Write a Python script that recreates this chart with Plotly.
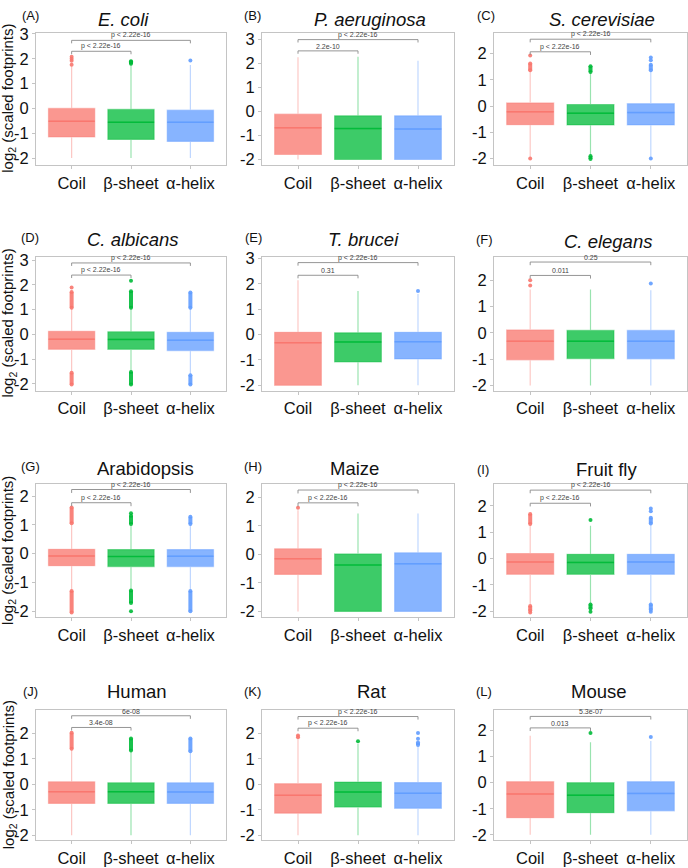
import plotly.graph_objects as go

W, H = 688, 868

letters = ["A", "B", "C", "D", "E", "F", "G", "H", "I", "J", "K", "L"]
titles = ["E. coli", "P. aeruginosa", "S. cerevisiae", "C. albicans", "T. brucei", "C. elegans",
          "Arabidopsis", "Maize", "Fruit fly", "Human", "Rat", "Mouse"]
italic = [True] * 6 + [False] * 6
cats = ["Coil", "β-sheet", "α-helix"]
colors = [(248, 118, 109), (0, 186, 56), (97, 156, 255)]

# box stats per panel: [Coil, beta-sheet, alpha-helix]
q1 = [[-1.15, -1.25, -1.33], [-1.79, -2.0, -2.0], [-0.71, -0.72, -0.72],
      [-0.6, -0.6, -0.65], [-2.0, -1.08, -0.96], [-1.03, -0.98, -0.99],
      [-0.42, -0.45, -0.45], [-0.7, -2.0, -2.0], [-0.6, -0.6, -0.6],
      [-0.75, -0.75, -0.75], [-1.13, -0.89, -0.94], [-1.34, -1.15, -1.08]]
med = [[-0.52, -0.56, -0.56], [-0.68, -0.71, -0.73], [-0.22, -0.27, -0.25],
       [-0.19, -0.2, -0.23], [-0.32, -0.29, -0.28], [-0.32, -0.32, -0.32],
       [-0.08, -0.1, -0.09], [-0.15, -0.37, -0.33], [-0.13, -0.15, -0.13],
       [-0.29, -0.29, -0.3], [-0.43, -0.3, -0.35], [-0.43, -0.48, -0.41]]
q3 = [[0.0, -0.04, -0.07], [-0.11, -0.18, -0.18], [0.12, 0.06, 0.09],
      [0.13, 0.11, 0.09], [0.09, 0.07, 0.09], [0.11, 0.09, 0.09],
      [0.15, 0.14, 0.14], [0.2, 0.02, 0.06], [0.19, 0.16, 0.16],
      [0.1, 0.06, 0.06], [0.03, 0.09, 0.07], [0.04, 0.0, 0.04]]
lo = [[-2.0, -2.0, -2.0], [-2.0, -2.0, -2.0], [-1.95, -1.88, -1.95],
      [-1.5, -1.5, -1.6], [-2.0, -2.0, -2.0], [-2.0, -2.0, -2.0],
      [-1.25, -1.25, -1.25], [-2.0, -2.0, -2.0], [-1.75, -1.7, -1.72],
      [-2.0, -2.0, -2.0], [-2.0, -2.0, -2.0], [-2.0, -2.0, -2.0]]
hi = [[1.7, 1.78, 1.75], [2.26, 2.29, 2.12], [1.35, 1.28, 1.33],
      [1.05, 1.05, 1.05], [2.14, 1.72, 1.6], [1.65, 1.65, 1.62],
      [1.0, 1.0, 1.0], [1.55, 1.44, 1.44], [1.28, 1.25, 1.3],
      [1.35, 1.3, 1.28], [1.78, 1.6, 1.5], [1.8, 1.55, 1.6]]

# single outlier points
out_pts = [[[1.76, 1.92, 2.0, 2.08], [1.85, 1.88], [1.93]],
           [[], [], []],
           [[-2.0, 1.93], [], [-2.0, 1.75, 1.85]],
           [[1.9], [2.17], []],
           [[], [], [1.72]],
           [[1.8, 2.0], [], [1.87]],
           [[], [1.4, -2.0], []],
           [[1.64], [], []],
           [[-2.05], [1.46, -2.02], [1.9, 1.8, -2.02]],
           [[], [], []],
           [[1.85, 1.92], [1.7], [1.8, 2.02]],
           [[], [1.9], [1.75]]]
# dense runs of outliers (low, high)
out_runs = [[[], [[1.8, 1.9]], []],
            [[], [], []],
            [[[1.37, 1.62]], [[1.3, 1.52], [-2.02, -1.9]], [[1.37, 1.58]]],
            [[[1.08, 1.72], [-2.02, -1.55]], [[1.08, 1.75], [-2.02, -1.52]], [[1.08, 1.7], [-2.02, -1.65]]],
            [[], [], []],
            [[], [], []],
            [[[1.06, 1.6], [-2.05, -1.3]], [[1.03, 1.32], [-1.72, -1.28]], [[1.03, 1.28], [-2.0, -1.3]]],
            [[], [], []],
            [[[1.31, 1.69], [-1.98, -1.8]], [[-1.9, -1.75]], [[1.33, 1.55], [-1.95, -1.75]]],
            [[[1.4, 2.02]], [[1.33, 1.8]], [[1.3, 1.8]]],
            [[], [], [[1.55, 1.65]]],
            [[], [], []]]

# comparisons: Coil vs beta-sheet, Coil vs alpha-helix
p_cb = ["p < 2.22e-16", "2.2e-10", "p < 2.22e-16", "p < 2.22e-16", "0.31", "0.011",
        "p < 2.22e-16", "p < 2.22e-16", "p < 2.22e-16", "3.4e-08", "p < 2.22e-16", "0.013"]
p_ca = ["p < 2.22e-16", "p < 2.22e-16", "p < 2.22e-16", "p < 2.22e-16", "p < 2.22e-16", "0.25",
        "p < 2.22e-16", "p < 2.22e-16", "p < 2.22e-16", "6e-08", "p < 2.22e-16", "5.3e-07"]
y_cb = [2.3, 2.53, 2.07, 2.4, 2.34, 2.18, 1.77, 1.81, 2.1, 2.23, 2.21, 2.1]
y_ca = [2.74, 3.0, 2.55, 2.89, 2.84, 2.69, 2.23, 2.26, 2.6, 2.69, 2.67, 2.54]

y_min = [-2.27, -2.22, -2.24, -2.27, -2.21, -2.2, -2.22, -2.21, -2.24, -2.2, -2.2, -2.21]
y_max = [3.05, 3.29, 2.8, 3.15, 3.08, 2.9, 2.41, 2.46, 2.82, 2.91, 2.92, 2.78]
y_top_tick = [3, 3, 2, 3, 3, 2, 2, 2, 2, 2, 2, 2]

# panel geometry in pixels
col_px = [(36, 226), (262, 454), (494, 687)]
row_px = [(25, 159), (252, 388), (483, 618), (712, 844)]
title_px = [(124, 12), (370, 12), (602, 12), (133, 235), (363, 235), (608, 237),
            (145, 467), (354, 467), (606, 468), (137, 693), (371, 693), (599, 693)]
letter_px = [(31, 8), (252, 8), (486, 8), (30, 233), (253, 233), (484, 235),
             (30, 465), (253, 465), (483, 468), (31, 693), (252, 693), (484, 693)]

FONT = "Liberation Sans, Arial, sans-serif"
BW = 0.78
TIP = 0.12


def rgba(c, a):
    return "rgba(%d,%d,%d,%s)" % (c[0], c[1], c[2], a)


fig = go.Figure()
annotations = []
layout = {}

for k in range(12):
    r, c = divmod(k, 3)
    sfx = "" if k == 0 else str(k + 1)
    xa, ya = "x" + sfx, "y" + sfx
    x0, x1 = col_px[c]
    t0, t1 = row_px[r]
    yt = list(range(-2, y_top_tick[k] + 1))
    layout["xaxis" + sfx] = dict(
        domain=[x0 / W, x1 / W], anchor=ya, range=[0.4, 3.6],
        tickvals=[1, 2, 3], ticktext=cats, showgrid=False, zeroline=False,
        showline=True, mirror=True, linecolor="#C4C4C4", linewidth=1,
        ticks="outside", ticklen=3, tickcolor="#C4C4C4", ticklabeloverflow="allow",
        tickfont=dict(size=16.5, color="#111", family=FONT))
    layout["yaxis" + sfx] = dict(
        domain=[1 - t1 / H, 1 - t0 / H], anchor=xa, range=[y_min[k], y_max[k]],
        tickvals=yt, ticktext=[str(v) for v in yt], showgrid=False, zeroline=False,
        showline=True, mirror=True, linecolor="#C4C4C4", linewidth=1,
        ticks="outside", ticklen=3, tickcolor="#C4C4C4", ticklabeloverflow="allow",
        tickfont=dict(size=16.5, color="#111", family=FONT))

    for j in range(3):
        col = colors[j]
        xi = j + 1
        fig.add_trace(go.Box(
            x=[xi], q1=[q1[k][j]], median=[med[k][j]], q3=[q3[k][j]],
            lowerfence=[lo[k][j]], upperfence=[hi[k][j]], width=BW,
            fillcolor=rgba(col, 0.76), line=dict(color=rgba(col, 0.4), width=1.2),
            whiskerwidth=0, boxpoints=False, xaxis=xa, yaxis=ya, showlegend=False))
        fig.add_trace(go.Scatter(
            x=[xi - BW / 2, xi + BW / 2], y=[med[k][j], med[k][j]], mode="lines",
            line=dict(color=rgba(col, 0.9), width=1.5), xaxis=xa, yaxis=ya,
            showlegend=False, hoverinfo="skip"))
        for a, b in out_runs[k][j]:
            fig.add_trace(go.Scatter(
                x=[xi, xi], y=[a, b], mode="lines+markers",
                line=dict(color=rgba(col, 0.9), width=4),
                marker=dict(size=4, color=rgba(col, 0.9)),
                xaxis=xa, yaxis=ya, showlegend=False, hoverinfo="skip"))
        if out_pts[k][j]:
            fig.add_trace(go.Scatter(
                x=[xi] * len(out_pts[k][j]), y=out_pts[k][j], mode="markers",
                marker=dict(size=4, color=rgba(col, 0.9)),
                xaxis=xa, yaxis=ya, showlegend=False, hoverinfo="skip"))

    # significance brackets
    for x_end, yb, lab in [(2, y_cb[k], p_cb[k]), (3, y_ca[k], p_ca[k])]:
        fig.add_trace(go.Scatter(
            x=[1, 1, x_end, x_end], y=[yb - TIP, yb, yb, yb - TIP], mode="lines",
            line=dict(color="#8a8a8a", width=0.9), xaxis=xa, yaxis=ya,
            showlegend=False, hoverinfo="skip"))
        annotations.append(dict(
            x=(1 + x_end) / 2, y=yb, xref=xa, yref=ya, text=lab, showarrow=False,
            yanchor="bottom", yshift=-1, font=dict(size=7, color="#444", family=FONT)))

    # titles and panel letters
    tx, ty = title_px[k]
    ttl = "<i>%s</i>" % titles[k] if italic[k] else titles[k]
    annotations.append(dict(
        x=tx / W, y=1 - ty / H, xref="paper", yref="paper", text=ttl, showarrow=False,
        xanchor="center", yanchor="middle", font=dict(size=18.5, color="#111", family=FONT)))
    lx, ly = letter_px[k]
    annotations.append(dict(
        x=lx / W, y=1 - ly / H, xref="paper", yref="paper", text="(%s)" % letters[k],
        showarrow=False, xanchor="center", yanchor="middle",
        font=dict(size=13, color="#111", family=FONT)))

    if c == 0:
        annotations.append(dict(
            x=9 / W, y=1 - (t0 + t1) / 2 / H, xref="paper", yref="paper",
            text="log<sub>2</sub> (scaled footprints)", textangle=-90, showarrow=False,
            xanchor="center", yanchor="middle", font=dict(size=15, color="#111", family=FONT)))

fig.update_layout(
    width=W, height=H, margin=dict(l=0, r=0, t=0, b=0),
    paper_bgcolor="white", plot_bgcolor="white",
    annotations=annotations, showlegend=False, **layout)

# the page's default body margin would push the figure off its 688x868 frame
fig.write_html("out.html", config={"displayModeBar": False},
               post_script="document.body.style.margin='0';document.body.style.overflow='hidden';")
